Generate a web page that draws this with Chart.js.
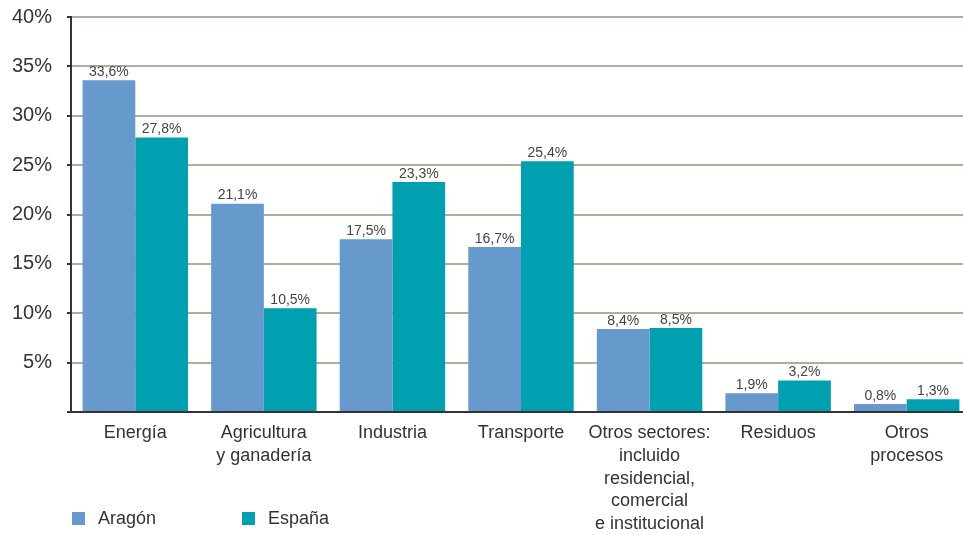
<!DOCTYPE html>
<html>
<head>
<meta charset="utf-8">
<script src="https://cdn.jsdelivr.net/npm/chart.js@4"></script>
<style>
  html, body { margin: 0; padding: 0; background: #fff; overflow: hidden; }
  #wrap { position: relative; width: 971px; height: 535px; }
  .legend { position: absolute; top: 508px; font: 18px "Liberation Sans", Arial, sans-serif; color: #333; }
  .legend span.box { display: inline-block; width: 13px; height: 13px; vertical-align: -1px; margin-right: 13px; }
</style>
</head>
<body>
<div id="wrap">
  <canvas id="chart"></canvas>
  <div class="legend" style="left:72px"><span class="box" style="background:#6699cc"></span>Aragón</div>
  <div class="legend" style="left:242px"><span class="box" style="background:#00a0b0"></span>España</div>
</div>
<script>
const categories = [
  "Energía",
  ["Agricultura", "y ganadería"],
  "Industria",
  "Transporte",
  ["Otros sectores:", "incluido", "residencial,", "comercial", "e institucional"],
  "Residuos",
  ["Otros", "procesos"],
];
const aragon = [33.6, 21.1, 17.5, 16.7, 8.4, 1.9, 0.8];
const espana = [27.8, 10.5, 23.3, 25.4, 8.5, 3.2, 1.3];

const fontFamily = '"Liberation Sans", Arial, sans-serif';

// value labels above each bar, with a decimal comma
const valueLabels = {
  id: "valueLabels",
  afterDatasetsDraw(chart) {
    const ctx = chart.ctx;
    ctx.save();
    ctx.font = "14px " + fontFamily;
    ctx.fillStyle = "#444";
    ctx.textAlign = "center";
    ctx.textBaseline = "bottom";
    chart.data.datasets.forEach((ds, i) => {
      chart.getDatasetMeta(i).data.forEach((bar, j) => {
        ctx.fillText(ds.data[j].toFixed(1).replace(".", ",") + "%", bar.x, bar.y - 1);
      });
    });
    ctx.restore();
  },
};

new Chart(document.getElementById("chart"), {
  type: "bar",
  data: {
    labels: categories,
    datasets: [
      { label: "Aragón", data: aragon, backgroundColor: "#6699cc" },
      { label: "España", data: espana, backgroundColor: "#00a0b0" },
    ],
  },
  options: {
    responsive: true,
    maintainAspectRatio: false,
    animation: false,
    layout: { padding: { top: 17, left: 0, right: 0, bottom: 0 } },
    datasets: { bar: { categoryPercentage: 0.82, barPercentage: 1 } },
    plugins: { legend: { display: false }, tooltip: { enabled: false } },
    scales: {
      x: {
        grid: { display: false },
        border: { color: "#333", width: 2 },
        ticks: { color: "#333", font: { family: fontFamily, size: 18, lineHeight: 1.26 }, padding: 2, maxRotation: 0, autoSkip: false },
        afterFit(s) { s.height = 123; },
      },
      y: {
        min: 0,
        max: 40,
        grid: { color: "#b0ad9f", lineWidth: 2, tickColor: "#333", tickLength: 4, drawTicks: true },
        border: { color: "#333", width: 2 },
        ticks: {
          stepSize: 5,
          padding: 15,
          color: "#333",
          font: { family: fontFamily, size: 20 },
          callback: (v) => (v === 0 ? "" : v + "%"),
        },
        afterFit(s) { s.width = 71; s.paddingTop = 0; s.paddingBottom = 0; },
      },
    },
  },
  plugins: [valueLabels],
});
</script>
</body>
</html>
